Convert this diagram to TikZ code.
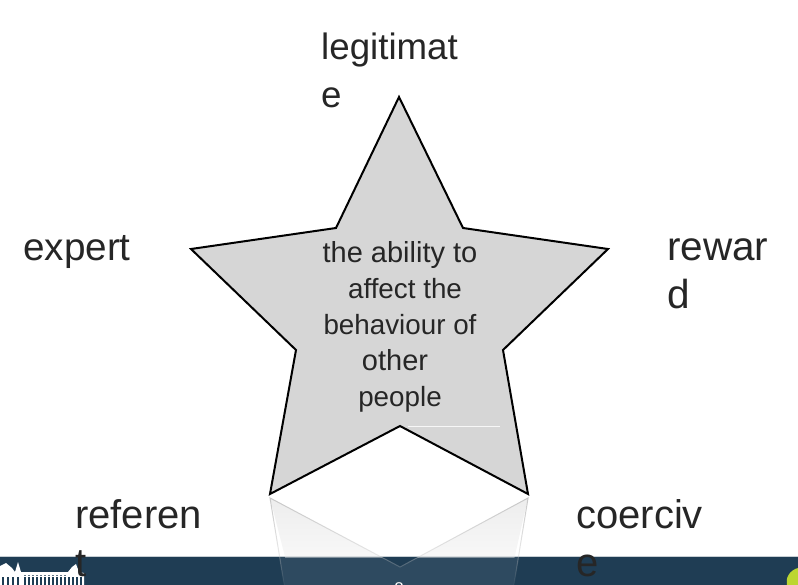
\documentclass[tikz,border=0pt]{standalone}
\usepackage{fontspec}
\setmainfont{Liberation Sans}
\usetikzlibrary{fadings}
\definecolor{BarBlue}{HTML}{1F3D54}
\definecolor{StarGrey}{HTML}{D6D6D6}
\definecolor{InkGrey}{HTML}{262626}
\definecolor{LeafGreen}{HTML}{BCD631}
\newcommand{\tight}{\fontsize{27.8}{36}\selectfont}

\begin{document}
\begin{tikzpicture}[
        x=1pt, y=-1pt,
        power/.style={anchor=north west, align=left, inner sep=0pt, text=InkGrey,
          font=\fontsize{40}{48}\selectfont},
        centre/.style={align=center, inner sep=0pt, text=InkGrey,
          font=\fontsize{29}{36}\selectfont},
        star/.style={draw=black, fill=StarGrey, line width=2pt, line join=miter}
      ]
        \useasboundingbox (0,0) rectangle (798,585);
        \clip (0,0) rectangle (798,585);
        % footer
        \fill[BarBlue] (0,557) rectangle (798,585);
        \draw[white!75!BarBlue, line width=0.7pt] (0,556.7) -- (798,556.7);
        \fill[LeafGreen] (798,568) .. controls (790,570) and (785,578) .. (787,585) -- (798,585) -- cycle;
        \node[text=white, inner sep=0pt, font=\fontsize{17}{17}\selectfont] (pagenum) at (399,589) {8};
        % building
        \fill[white] (0,566) -- (6,563) -- (12,568) -- (15,572) -- (18,562) -- (21,572) -- (68,572)
          -- (72,567) -- (76,564) -- (79,572) -- (84,573) -- (84,585) -- (0,585) -- cycle;
        \foreach \i in {2,7,...,17,24,28,...,80}
          \fill[BarBlue] (\i,577) rectangle ++(2,8);
        \foreach \i in {24,28,...,64}
          \fill[BarBlue!70] (\i,574.5) rectangle ++(2,1);
        % reflection
        \begin{scope}
          \clip (0,490) rectangle (798,557);
          \fill[black!7, path fading=south]
            (270,498) -- (400,567) -- (528,498) -- (505,600) -- (296,600) -- cycle;
        \end{scope}
        \begin{scope}
          \clip (0,557) rectangle (798,585);
          \fill[white, opacity=0.07]
            (270,498) -- (400,567) -- (528,498) -- (513,590) -- (285,590) -- cycle;
        \end{scope}
        \draw[black!22, line width=1pt, path fading=south]
          (285,590) -- (270,498) -- (400,567) -- (528,498) -- (513,590);
        % star
        \draw[star] (399,97) -- (463,228) -- (608,249) -- (503,350) -- (528,494) -- (400,426)
          -- (270,494) -- (296,350) -- (191,249) -- (336,228) -- cycle;
        \draw[white!80!StarGrey, line width=0.5pt] (408,426.5) -- (500,426.5);
        \node[centre] (ability) at (400,327) {the ability to\\{\tight\hspace*{10pt}affect the}\\{\tight behaviour of}\\\hspace*{-10pt}other\\{\tight people}};
        % labels
        \node[power, font=\fontsize{36.7}{48}\selectfont] (legitimate) at (321,33) {legitimat\\e};
        \node[power, font=\fontsize{38.7}{48}\selectfont] (expert) at (23,235) {expert};
        \node[power, font=\fontsize{40.5}{48}\selectfont] (reward) at (667,239) {rewar\\d};
        \node[power] (referent) at (75,499) {referen\\t};
        \node[power] (coercive) at (576,499) {coerciv\\e};
      \end{tikzpicture}
\end{document}
